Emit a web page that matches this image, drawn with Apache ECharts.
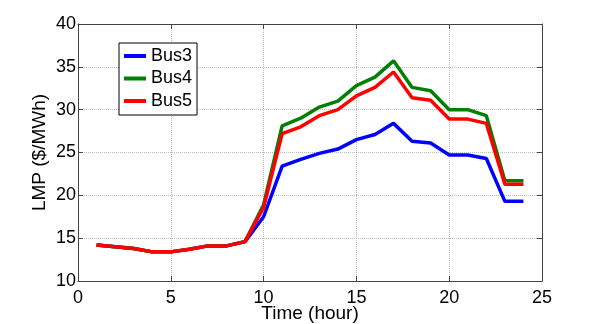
<!DOCTYPE html>
<html>
<head>
<meta charset="utf-8">
<script src="https://cdn.jsdelivr.net/npm/echarts@6/dist/echarts.min.js"></script>
<style>
  html, body { margin: 0; padding: 0; background: #fff; }
  #chart { width: 599px; height: 324px; }
</style>
</head>
<body>
<div id="chart"></div>
<script>
// hours 1..24
const hours = [1, 2, 3, 4, 5, 6, 7, 8, 9, 10, 11, 12, 13, 14, 15, 16, 17, 18, 19, 20, 21, 22, 23, 24];

const bus3 = [14.2, 14.0, 13.8, 13.4, 13.4, 13.7, 14.1, 14.1, 14.6, 17.5, 23.4, 24.2, 24.9, 25.4, 26.5, 27.1, 28.4, 26.3, 26.1, 24.7, 24.7, 24.3, 19.3, 19.3];
const bus4 = [14.2, 14.0, 13.8, 13.4, 13.4, 13.7, 14.1, 14.1, 14.6, 18.9, 28.1, 29.0, 30.3, 31.0, 32.8, 33.8, 35.7, 32.6, 32.2, 30.0, 30.0, 29.3, 21.7, 21.7];
const bus5 = [14.2, 14.0, 13.8, 13.4, 13.4, 13.7, 14.1, 14.1, 14.6, 18.6, 27.2, 28.0, 29.3, 30.0, 31.6, 32.6, 34.4, 31.4, 31.1, 28.9, 28.9, 28.4, 21.3, 21.3];

const seriesNames = ['Bus3', 'Bus4', 'Bus5'];
const colors = ['#0000ff', '#008000', '#ff0000'];

const pair = (ys) => hours.map((h, i) => [h, ys[i]]);

const chart = echarts.init(document.getElementById('chart'));
const font = 'Liberation Sans, Arial, sans-serif';
const axisCol = '#444';

const option = {
  animation: false,
  color: colors,
  textStyle: { fontFamily: font },
  grid: { left: 78, right: 57, top: 24, bottom: 43, outerBoundsMode: 'none' },
  legend: {
    orient: 'vertical',
    left: 119,
    top: 43,
    padding: [4, 5, 5, 5],
    itemGap: 4.5,
    itemWidth: 22,
    itemHeight: 4,
    icon: 'rect',
    borderColor: '#000',
    borderWidth: 1,
    backgroundColor: '#fff',
    textStyle: { fontSize: 18, color: '#000', fontFamily: font, lineHeight: 18 },
    data: seriesNames
  },
  xAxis: [
    {
      type: 'value', min: 0, max: 25, interval: 5,
      name: 'Time (hour)', nameLocation: 'middle', nameGap: 23, nameMoveOverlap: false,
      nameTextStyle: { fontSize: 19, color: '#000', fontFamily: font },
      axisLine: { onZero: false, lineStyle: { color: axisCol } },
      axisTick: { inside: true, length: 5, lineStyle: { color: axisCol } },
      axisLabel: { fontSize: 18, color: '#000', margin: 8 },
      splitLine: { show: true, lineStyle: { type: 'dotted', color: '#bbb' } }
    },
    {
      type: 'value', min: 0, max: 25, interval: 5, position: 'top',
      axisLine: { onZero: false, lineStyle: { color: axisCol } },
      axisTick: { inside: true, length: 5, lineStyle: { color: axisCol } },
      axisLabel: { show: false },
      splitLine: { show: false }
    }
  ],
  yAxis: [
    {
      type: 'value', min: 10, max: 40, interval: 5,
      name: 'LMP ($/MWh)', nameLocation: 'middle', nameGap: 29, nameMoveOverlap: false,
      nameTextStyle: { fontSize: 19, color: '#000', fontFamily: font },
      axisLine: { show: true, onZero: false, lineStyle: { color: axisCol } },
      axisTick: { show: true, inside: true, length: 5, lineStyle: { color: axisCol } },
      axisLabel: { fontSize: 18, color: '#000', margin: 2 },
      splitLine: { show: true, lineStyle: { type: 'dotted', color: '#bbb' } }
    },
    {
      type: 'value', min: 10, max: 40, interval: 5, position: 'right',
      axisLine: { show: true, onZero: false, lineStyle: { color: axisCol } },
      axisTick: { show: true, inside: true, length: 5, lineStyle: { color: axisCol } },
      axisLabel: { show: false },
      splitLine: { show: false }
    }
  ],
  series: [
    { name: 'Bus3', type: 'line', data: pair(bus3), showSymbol: false, lineStyle: { width: 3.5 }, z: 3 },
    { name: 'Bus4', type: 'line', data: pair(bus4), showSymbol: false, lineStyle: { width: 3.5 }, z: 4 },
    { name: 'Bus5', type: 'line', data: pair(bus5), showSymbol: false, lineStyle: { width: 3.5 }, z: 5 }
  ]
};

chart.setOption(option);
</script>
</body>
</html>
